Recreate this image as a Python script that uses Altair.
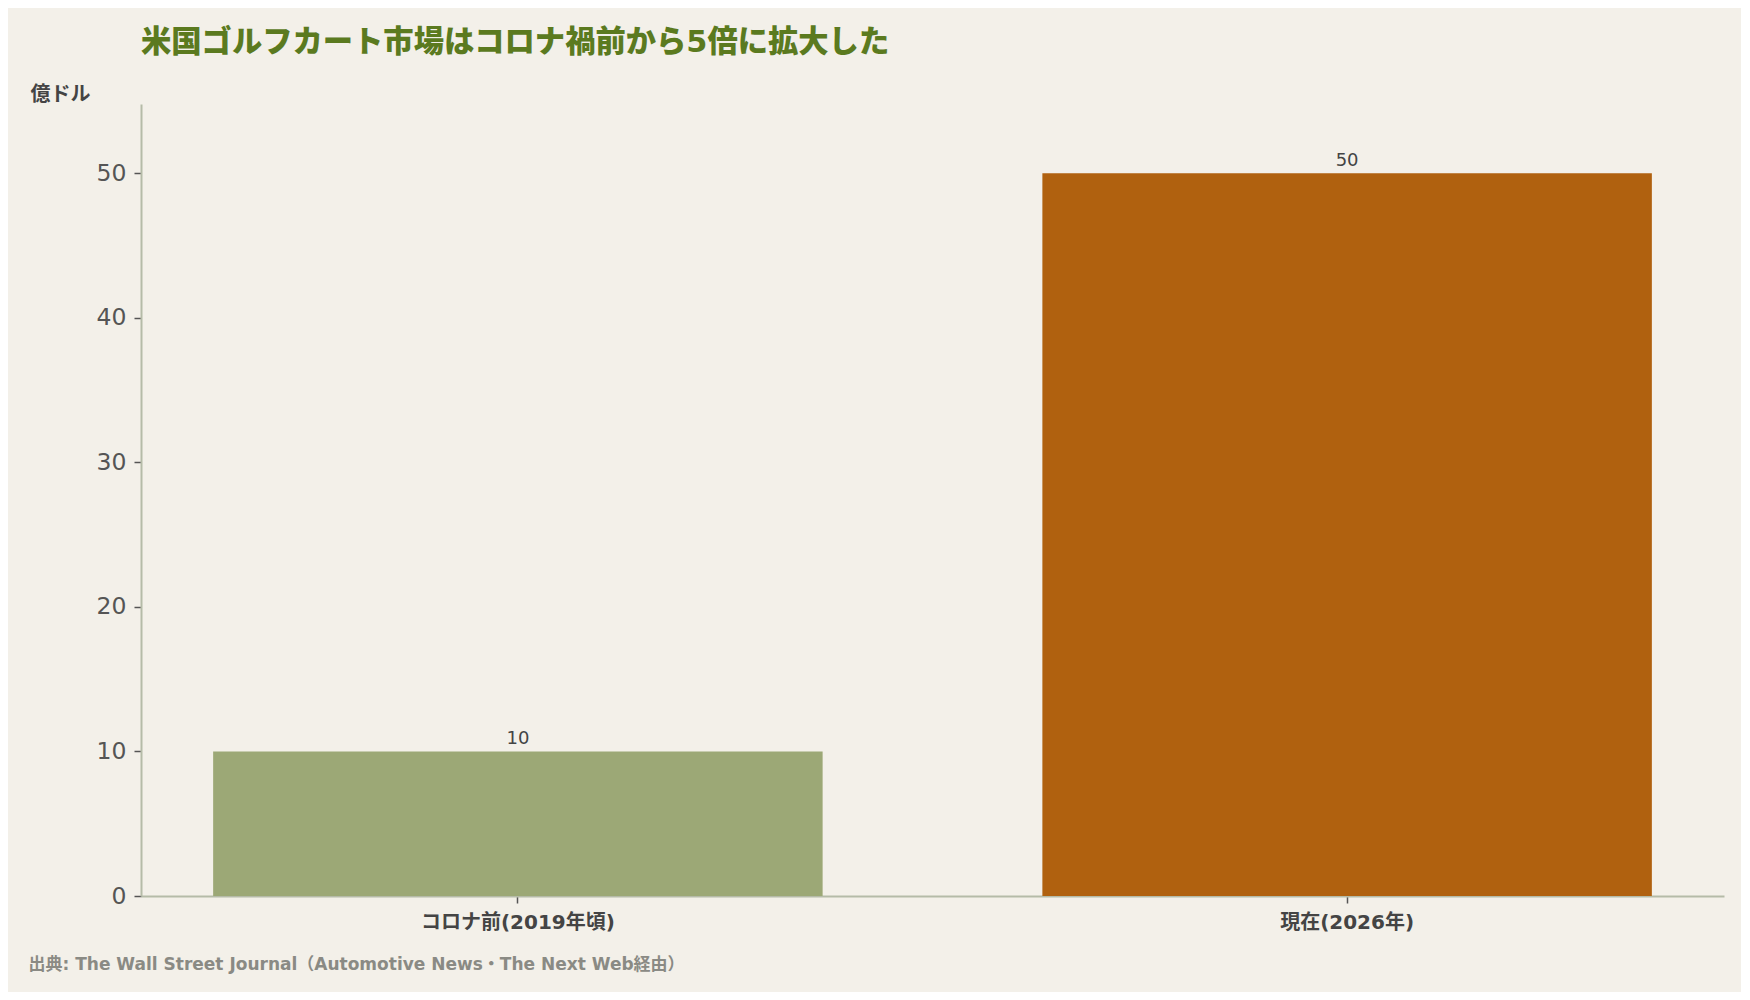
import pandas as pd
import altair as alt

# values (unit: 億ドル)
categories = ["コロナ前(2019年頃)", "現在(2026年)"]
market_size = [10, 50]
bar_colors = ["#9ca876", "#b0610f"]
y_ticks = [0, 10, 20, 30, 40, 50]

title_text = "米国ゴルフカート市場はコロナ禍前から5倍に拡大した"
unit_text = "億ドル"
source_text = "出典: The Wall Street Journal（Automotive News・The Next Web経由）"

# Latin glyphs from DejaVu Sans, Japanese falls back to Noto Sans CJK JP
FONT = "DejaVu Sans, Noto Sans CJK JP"

df = pd.DataFrame({"period": categories, "value": market_size})

base = alt.Chart(df)

bars = base.mark_bar().encode(
    x=alt.X(
        "period:N",
        sort=None,
        scale=alt.Scale(paddingInner=0.265, paddingOuter=0.087),
        axis=alt.Axis(
            title=source_text,
            titleX=-113, titleY=73,
            titleAlign="left", titleBaseline="alphabetic", titleLimit=1600,
            titleFont=FONT, titleFontSize=17, titleFontWeight="bold", titleColor="#8a8a84",
            labelAngle=0, labelFont=FONT, labelFontSize=20, labelFontWeight="bold",
            labelColor="#444444", labelPadding=9, labelLimit=600,
            tickColor="#555555", tickSize=7, tickWidth=1.5,
            domainColor="#b5bba8", domainWidth=2,
        ),
    ),
    y=alt.Y(
        "value:Q",
        scale=alt.Scale(domain=[0, 54.8], nice=False),
        axis=alt.Axis(
            values=y_ticks,
            title=unit_text,
            titleAngle=0, titleX=-111, titleY=-4,
            titleAlign="left", titleBaseline="alphabetic",
            titleFont=FONT, titleFontSize=20, titleFontWeight="bold", titleColor="#444444",
            labelFont=FONT, labelFontSize=23.5, labelColor="#555555", labelPadding=8,
            tickColor="#555555", tickSize=7, tickWidth=1.5,
            domainColor="#b5bba8", domainWidth=2,
            grid=False,
        ),
    ),
    color=alt.Color("period:N", sort=None,
                    scale=alt.Scale(domain=categories, range=bar_colors), legend=None),
)

labels = base.mark_text(
    font=FONT, fontSize=18, color="#444444", baseline="alphabetic", dy=-7
).encode(
    x=alt.X("period:N", sort=None),
    y=alt.Y("value:Q"),
    text=alt.Text("value:Q"),
)

chart = alt.layer(bars, labels).properties(
    width=1583,
    height=792,
    padding={"left": 133, "top": 96, "right": 17, "bottom": 96},
    autosize=alt.AutoSizeParams(type="none"),
    background="#f3f0e9",
    title=alt.TitleParams(
        text=title_text,
        anchor="start",
        frame="group",
        font=FONT,
        fontSize=30.3,
        fontWeight=900,
        color="#5b7a1f",
        offset=26,
    ),
).configure_view(stroke=None)

chart.save("out.html", embed_options={"renderer": "svg", "actions": False})
